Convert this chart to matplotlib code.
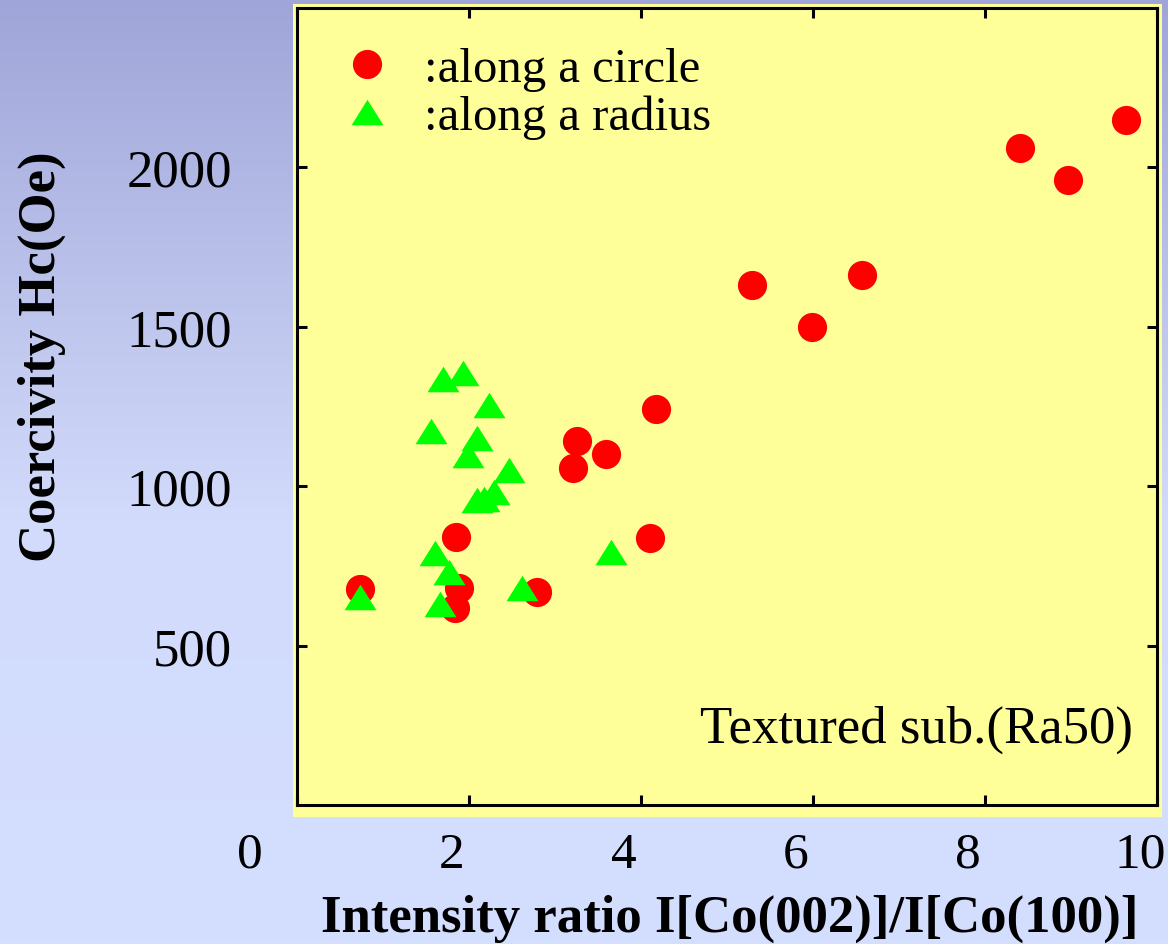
import numpy as np
import matplotlib
matplotlib.use("Agg")
import matplotlib.pyplot as plt
from matplotlib.patches import Rectangle
from matplotlib.colors import LinearSegmentedColormap

plt.rcParams["font.family"] = ["Liberation Serif", "DejaVu Serif"]

# intensity ratio vs coercivity, textured substrate Ra50
circle_ratio = [0.73, 1.85, 1.88, 1.84, 2.79, 3.21, 3.26, 3.59, 4.17, 4.10,
                5.29, 5.99, 6.57, 8.41, 8.97, 9.64]
circle_hc = [678, 841, 681, 618, 668, 1057, 1142, 1101, 1242, 838,
             1631, 1499, 1663, 2061, 1961, 2149]

radius_ratio = [1.70, 1.93, 2.23, 1.56, 2.09, 1.99, 2.47, 2.29, 2.17, 2.09,
                3.65, 1.61, 1.77, 0.73, 1.66, 2.62]
radius_hc = [1336, 1355, 1255, 1173, 1151, 1098, 1050, 981, 959, 956,
             794, 791, 731, 652, 629, 681]

x_ticks = [0, 2, 4, 6, 8, 10]
y_ticks = [500, 1000, 1500, 2000]

W, H = 1168, 945
fig = plt.figure(figsize=(W / 100, H / 100), dpi=100)

# slide-style background gradient
bg = fig.add_axes([0, 0, 1, 1], zorder=-10)
cmap = LinearSegmentedColormap.from_list(
    "slide", [(0.0, "#9fa5d8"), (0.55, "#d2dbfb"), (1.0, "#d4deff")])
bg.imshow(np.linspace(0, 1, 256).reshape(-1, 1), aspect="auto", cmap=cmap,
          extent=[0, 1, 0, 1], origin="upper")
bg.axis("off")

# yellow panel slightly larger than the frame
fig.patches.append(Rectangle((293 / W, 1 - 818 / H), (1162 - 293) / W, (818 - 5) / H,
                             transform=fig.transFigure, facecolor="#ffff99",
                             edgecolor="none", zorder=-5))

ax = fig.add_axes([297 / W, 1 - 806 / H, 860 / W, 797 / H])
ax.set_facecolor("#ffff99")

tri = [(0, 0.8), (-1, -0.8), (1, -0.8)]
ax.plot(circle_ratio, circle_hc, "o", color="#ff0000", ms=21, mec="none",
        label=":along a circle")
ax.plot(radius_ratio, radius_hc, linestyle="none", marker=tri, color="#00ff00",
        ms=23, mec="none", label=":along a radius")

ax.set_xlim(0, 10)
ax.set_ylim(0, 2500)
for s in ax.spines.values():
    s.set_linewidth(2.2)

ax.set_xticks(x_ticks)
ax.set_yticks(y_ticks)
ax.tick_params(direction="in", length=7, width=2.2, top=True, right=True,
               labelbottom=False)
ax.tick_params(axis="y", labelsize=38, pad=47)

# x tick labels sit a little left of their ticks
for v in x_ticks:
    dx = -47 if v == 0 else -17
    ax.annotate(str(v), xy=(v, 0), xycoords=("data", "axes fraction"),
                xytext=(dx, -62), textcoords="offset pixels",
                ha="center", va="baseline", fontsize=37, annotation_clip=False)

ax.legend(loc="upper left", bbox_to_anchor=(0.0535, 0.951), fontsize=35,
          frameon=False, borderpad=0, borderaxespad=0, handlelength=1.0,
          handletextpad=0.67, labelspacing=0.07)

ax.text(0.972, 0.079, "Textured sub.(Ra50)", transform=ax.transAxes,
        ha="right", va="baseline", fontsize=38)

fig.text(730 / W, 1 - 932 / H, "Intensity ratio I[Co(002)]/I[Co(100)]",
         ha="center", va="baseline", fontsize=38, fontweight="bold")
fig.text(42 / W, 1 - 357 / H, "Coercivity Hc(Oe)", rotation=90,
         ha="center", va="center", fontsize=38, fontweight="bold")

fig.savefig("out.png", dpi=100)
